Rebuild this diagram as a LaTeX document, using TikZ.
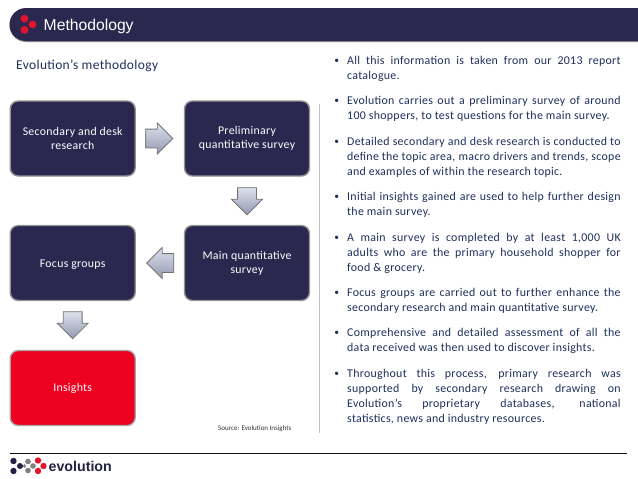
\documentclass[tikz,border=0pt]{standalone}
\usepackage{fontspec}
\usetikzlibrary{shapes.arrows}
\setmainfont{Carlito}
\newfontfamily\bodyfont[LetterSpace=2.5]{Carlito}
\newfontfamily\headfont{Liberation Sans}
\newfontfamily\logofont{Liberation Sans}
\definecolor{navy}{HTML}{2B2850}
\definecolor{inktxt}{HTML}{1F2F5C}
\definecolor{redbox}{HTML}{EE0020}
\definecolor{dotred}{HTML}{E3122D}
\definecolor{arrowhi}{HTML}{DDE1EC}
\definecolor{arrowlo}{HTML}{9399B2}
\newcommand{\jl}[1]{\hbox to 273.5pt{\spaceskip=.22em plus 1fil\relax #1}}
\newcommand{\pl}[1]{\hbox{#1}}
\newcommand{\bul}{\llap{\raisebox{.6pt}{\fontsize{9.5}{10}\selectfont •}\hskip 8pt}}
\newcommand{\para}[1]{\vtop{\baselineskip=15pt\lineskip=0pt #1}}
\tikzset{
  x=1pt,y=-1pt,
  procbox/.style={draw=black!42,line width=1.4pt,fill=navy,rounded corners=8pt,minimum width=125pt,minimum height=75pt,inner sep=2pt,text=white,align=center,font=\bodyfont\fontsize{11.8}{14}\selectfont},
  redproc/.style={procbox,fill=redbox,draw=black!35},
  blockarrow/.style={single arrow,single arrow head extend=6pt,single arrow head indent=0pt,minimum height=27pt,inner xsep=0pt,inner ysep=9pt,draw=black!55,line width=.8pt,top color=arrowhi,bottom color=arrowlo},
  bulletpara/.style={anchor=base west,inner sep=0pt,text=inktxt,font=\bodyfont\fontsize{11.9}{15}\selectfont},
}
\begin{document}
\begin{tikzpicture}
\useasboundingbox[fill=white] (0,0) rectangle (638,479);
% header
\fill[black!45] (638,9) -- (26,9) arc[start angle=90,end angle=270,radius=16.5pt] -- (638,42) -- cycle;
\fill[navy] (638,8) -- (26,8) arc[start angle=90,end angle=270,radius=16.5pt] -- (638,41) -- cycle;
\fill[dotred] (24.5,18.7) circle (3.9pt) (32.5,24.5) circle (3.9pt) (24.5,30) circle (3.9pt);
\node[anchor=base west,inner sep=0pt,text=white,font=\headfont\fontsize{15.7}{18}\selectfont] (head) at (43.5,30.5) {Methodology};
% left title
\node[anchor=base west,inner sep=0pt,text=inktxt,font=\bodyfont\fontsize{13.5}{15}\selectfont] (title) at (16,69.5) {Evolution’s methodology};
% boxes
\node[procbox] (desk) at (72.7,138.5) {Secondary and desk\\[-.6pt]research};
\node[procbox] (prelim) at (247,138.5) {Preliminary\\[-.6pt]quantitative survey};
\node[procbox,text depth=0pt] (focus) at (72.7,263) {\raisebox{-1.5pt}{Focus groups}};
\node[procbox] (main) at (247,263) {\raisebox{-1pt}{Main quantitative}\\\raisebox{-1pt}{survey}};
\node[redproc] (insights) at (72.7,388) {\raisebox{-1pt}{Insights}};
% block arrows
\node[blockarrow] (a1) at (154.5,138.5) {};
\node[blockarrow,rotate=-90] (a2) at (247,196.5) {};
\node[blockarrow,rotate=180] (a3) at (165,263) {};
\node[blockarrow,rotate=-90] (a4) at (72.7,320.5) {};
% source
\node[anchor=base west,inner sep=0pt,text=black!80,font=\fontsize{7}{8}\selectfont] (src) at (218,430) {Source: Evolution Insights};
% divider
\draw[black!25,line width=1.5pt] (319.5,104) -- (319.5,433);
% bullets
\node[bulletpara] (b1) at (347,64) {\para{\jl{\bul All this information is taken from our 2013 report}\pl{catalogue.}}};
\node[bulletpara] (b2) at (347,104) {\para{\jl{\bul Evolution carries out a preliminary survey of around}\pl{100 shoppers, to test questions for the main survey.}}};
\node[bulletpara] (b3) at (347,145) {\para{\jl{\bul Detailed secondary and desk research is conducted to}\jl{define the topic area, macro drivers and trends, scope}\pl{and examples of within the research topic.}}};
\node[bulletpara] (b4) at (347,200) {\para{\jl{\bul Initial insights gained are used to help further design}\pl{the main survey.}}};
\node[bulletpara] (b5) at (347,241) {\para{\jl{\bul A main survey is completed by at least 1,000 UK}\jl{adults who are the primary household shopper for}\pl{food \& grocery.}}};
\node[bulletpara] (b6) at (347,296) {\para{\jl{\bul Focus groups are carried out to further enhance the}\pl{secondary research and main quantitative survey.}}};
\node[bulletpara] (b7) at (347,336) {\para{\jl{\bul Comprehensive and detailed assessment of all the}\pl{data received was then used to discover insights.}}};
\node[bulletpara] (b8) at (347,377) {\para{\jl{\bul Throughout this process, primary research was}\jl{supported by secondary research drawing on}\jl{Evolution’s proprietary databases, national}\pl{statistics, news and industry resources.}}};
% footer
\draw[black!70!navy,line width=.9pt] (10,453.5) -- (627,453.5);
\fill[navy!85!black] (13.5,461) circle (3.2pt) (13.5,471) circle (3.2pt) (20,466) circle (3pt);
\fill[black!50] (28,461.5) circle (2.8pt) (28,470.5) circle (2.8pt) (33,466) circle (2.8pt) (24.5,466) circle (1.8pt);
\fill[dotred] (38,460.5) circle (3.2pt) (38,471) circle (3.2pt) (43.5,466) circle (3.2pt);
\node[anchor=base west,inner sep=0pt,text=navy!85!black,font=\logofont\bfseries\fontsize{14.2}{16}\selectfont] (logo) at (48.5,471) {evolution};
\end{tikzpicture}
\end{document}
